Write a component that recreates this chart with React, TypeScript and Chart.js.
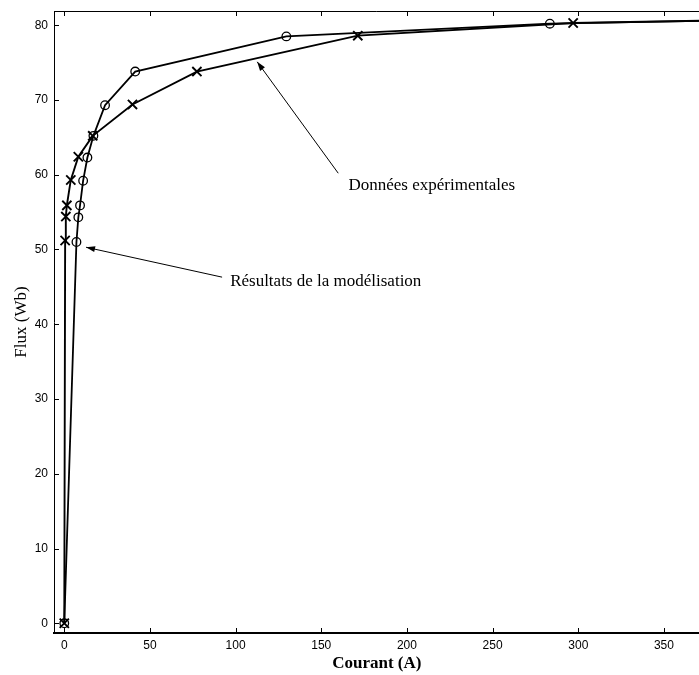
import React, { useEffect, useRef } from "react";
import { Chart, registerables } from "chart.js";

Chart.register(...registerables);

// Résultats de la modélisation (circles)
const modelCurrent = [0, 7.1, 8.2, 9.2, 11.0, 13.5, 17.0, 23.8, 41.4, 129.6, 283.4, 420];
const modelFlux = [0, 51.0, 54.3, 55.9, 59.2, 62.3, 65.2, 69.3, 73.8, 78.5, 80.2, 80.8];

// Données expérimentales (crosses)
const expCurrent = [0, 0.5, 0.9, 1.5, 3.8, 8.2, 16.6, 39.8, 77.4, 171.3, 297.0, 420];
const expFlux = [0, 51.2, 54.4, 55.9, 59.3, 62.4, 65.2, 69.4, 73.8, 78.6, 80.3, 80.8];

const xTicks = [0, 50, 100, 150, 200, 250, 300, 350];
const yTicks = [0, 10, 20, 30, 40, 50, 60, 70, 80];

const xTitle = "Courant (A)";
const yTitle = "Flux (Wb)";

// annotation texts with anchor / arrow points in data units
const annoTexts = ["Données expérimentales", "Résultats de la modélisation"];
const annoTextAt = [
  [214.5, 58.6],
  [96.8, 45.65],
];
const annoAlign = ["center", "left"];
const annoArrowFrom = [
  [159.9, 60.2],
  [92.1, 46.3],
];
const annoArrowTo = [
  [112.6, 75.1],
  [12.7, 50.3],
];

const framePlugin = {
  id: "frame",
  afterDraw(chart: any) {
    const { ctx, chartArea: a, scales } = chart;
    const x = scales.x;
    const y = scales.y;
    ctx.save();
    ctx.strokeStyle = "#000";
    ctx.lineWidth = 1;
    ctx.beginPath();
    ctx.moveTo(a.left, a.top + 0.5);
    ctx.lineTo(a.right, a.top + 0.5);
    x.ticks.forEach((t: any) => {
      const px = Math.round(x.getPixelForValue(t.value)) + 0.5;
      ctx.moveTo(px, a.bottom);
      ctx.lineTo(px, a.bottom - 5);
      ctx.moveTo(px, a.top);
      ctx.lineTo(px, a.top + 5);
    });
    y.ticks.forEach((t: any) => {
      const py = Math.round(y.getPixelForValue(t.value)) + 0.5;
      ctx.moveTo(a.left, py);
      ctx.lineTo(a.left + 5, py);
    });
    ctx.stroke();

    // annotations
    ctx.fillStyle = "#000";
    ctx.font = '17px "Liberation Serif", "Times New Roman", serif';
    ctx.textBaseline = "middle";
    annoTexts.forEach((txt, i) => {
      ctx.textAlign = annoAlign[i];
      ctx.fillText(
        txt,
        x.getPixelForValue(annoTextAt[i][0]),
        y.getPixelForValue(annoTextAt[i][1])
      );
      const x0 = x.getPixelForValue(annoArrowFrom[i][0]);
      const y0 = y.getPixelForValue(annoArrowFrom[i][1]);
      const x1 = x.getPixelForValue(annoArrowTo[i][0]);
      const y1 = y.getPixelForValue(annoArrowTo[i][1]);
      ctx.lineWidth = 1;
      ctx.beginPath();
      ctx.moveTo(x0, y0);
      ctx.lineTo(x1, y1);
      ctx.stroke();
      const ang = Math.atan2(y1 - y0, x1 - x0);
      const len = 9;
      const w = 3;
      ctx.beginPath();
      ctx.moveTo(x1, y1);
      ctx.lineTo(
        x1 - len * Math.cos(ang) + w * Math.sin(ang),
        y1 - len * Math.sin(ang) - w * Math.cos(ang)
      );
      ctx.lineTo(
        x1 - len * Math.cos(ang) - w * Math.sin(ang),
        y1 - len * Math.sin(ang) + w * Math.cos(ang)
      );
      ctx.closePath();
      ctx.fill();
    });
    ctx.restore();
  },
};

export default function App() {
  const ref = useRef<HTMLCanvasElement | null>(null);
  useEffect(() => {
    if (!ref.current) return;
    const tickFont = { family: '"Liberation Sans", Arial, sans-serif', size: 12 };
    const chart = new Chart(ref.current, {
      type: "line",
      data: {
        datasets: [
          {
            label: "Résultats de la modélisation",
            data: modelCurrent.map((c, i) => ({ x: c, y: modelFlux[i] })),
            borderColor: "#000",
            borderWidth: 1.8,
            pointStyle: "circle",
            pointRadius: 4.3,
            pointBorderWidth: 1.3,
            pointBorderColor: "#000",
            pointBackgroundColor: "rgba(0,0,0,0)",
            tension: 0,
            fill: false,
          },
          {
            label: "Données expérimentales",
            data: expCurrent.map((c, i) => ({ x: c, y: expFlux[i] })),
            borderColor: "#000",
            borderWidth: 1.9,
            pointStyle: "crossRot",
            pointRadius: 6.5,
            pointBorderWidth: 1.9,
            pointBorderColor: "#000",
            pointBackgroundColor: "#000",
            tension: 0,
            fill: false,
          },
        ],
      },
      options: {
        responsive: false,
        animation: false,
        devicePixelRatio: 1,
        layout: { padding: { top: 11, right: 0, left: 0, bottom: 0 } },
        plugins: {
          legend: { display: false },
          tooltip: { enabled: false },
        },
        scales: {
          x: {
            type: "linear",
            min: -6,
            max: 370.8,
            afterFit: (s: any) => {
              s.height = 42;
              s.paddingLeft = 0;
              s.paddingRight = 0;
            },
            afterBuildTicks: (s: any) => {
              s.ticks = xTicks.map((v) => ({ value: v }));
            },
            grid: { display: true, drawOnChartArea: false, drawTicks: false },
            border: { display: true, color: "#000", width: 2 },
            ticks: {
              color: "#000",
              font: tickFont,
              padding: 5,
              maxRotation: 0,
              autoSkip: false,
            },
            title: {
              display: true,
              text: xTitle,
              color: "#000",
              font: { family: '"Liberation Serif", "Times New Roman", serif', size: 17, weight: "bold" },
              padding: { top: 0, bottom: 1 },
            },
          },
          y: {
            type: "linear",
            min: -1.3,
            max: 81.9,
            afterFit: (s: any) => {
              s.width = 54;
              s.paddingTop = 0;
              s.paddingBottom = 0;
            },
            afterBuildTicks: (s: any) => {
              s.ticks = yTicks.map((v) => ({ value: v }));
            },
            grid: { display: true, drawOnChartArea: false, drawTicks: false },
            border: { display: true, color: "#000", width: 1 },
            ticks: {
              color: "#000",
              font: tickFont,
              padding: 6,
              autoSkip: false,
            },
            title: {
              display: true,
              text: yTitle,
              color: "#000",
              font: { family: '"Liberation Serif", "Times New Roman", serif', size: 17, weight: "normal" },
              padding: { top: 11, bottom: 0 },
            },
          },
        },
      },
      plugins: [framePlugin],
    } as any);
    return () => chart.destroy();
  }, []);

  return (
    <div
      style={{
        position: "fixed",
        left: 0,
        top: 0,
        width: 699,
        height: 675,
        overflow: "hidden",
        background: "#fff",
      }}
    >
      <canvas ref={ref} width={708} height={675} style={{ display: "block" }} />
    </div>
  );
}
